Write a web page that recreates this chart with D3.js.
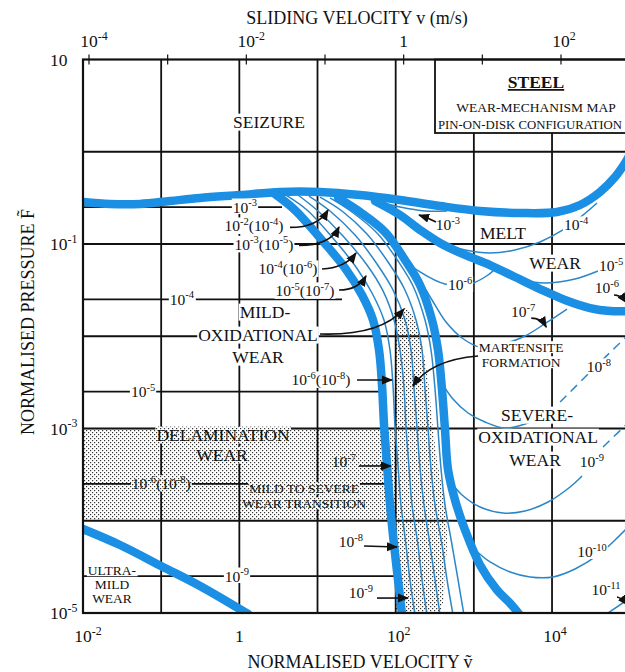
<!DOCTYPE html>
<html>
<head>
<meta charset="utf-8">
<script src="https://cdn.jsdelivr.net/npm/d3@7"></script>
<style>
  body { margin: 0; background: #fff; }
  text { font-family: "Liberation Serif", "Times New Roman", serif; fill: #111; }
</style>
</head>
<body>
<svg id="chart" width="625" height="672"></svg>
<script>
// All curve points are [log10 ṽ, log10 F̃] (normalised velocity, normalised pressure).

// Thick mechanism boundaries
const seizureBoundary = [[-2.0,-0.545],[-1.655,-0.566],[-1.27,-0.566],[-0.887,-0.534],[-0.503,-0.501],[0.008,-0.469],[0.52,-0.436],[1.032,-0.436],[1.543,-0.469],[2.055,-0.523],[2.567,-0.588],[3.079,-0.642],[3.59,-0.664],[4.064,-0.653],[4.358,-0.577],[4.614,-0.436],[4.806,-0.274],[4.934,-0.123],[5.03,0.02]];
const mildSevereBoundary = [[0.456,-0.458],[0.712,-0.632],[1.032,-0.935],[1.352,-1.26],[1.569,-1.553],[1.71,-1.824],[1.787,-2.149],[1.825,-2.528],[1.851,-2.962],[1.889,-3.396],[1.928,-3.829],[1.979,-4.263],[2.03,-4.642],[2.081,-5.022]];
const severeBoundary = [[1.263,-0.501],[1.543,-0.653],[1.863,-0.87],[2.119,-1.173],[2.311,-1.444],[2.465,-1.824],[2.541,-2.149],[2.593,-2.583],[2.631,-3.016],[2.67,-3.45],[2.759,-3.775],[2.887,-4.1],[3.079,-4.48],[3.296,-4.751],[3.462,-4.892],[3.59,-5.022]];
const meltBoundary = [[1.735,-0.534],[2.055,-0.686],[2.311,-0.848],[2.567,-0.989],[2.887,-1.119],[3.207,-1.228],[3.526,-1.358],[3.846,-1.488],[4.166,-1.607],[4.486,-1.694],[4.742,-1.726],[5.023,-1.726]];
const ultraMildBoundary = [[-2.0,-4.09],[-1.527,-4.263],[-0.977,-4.501],[-0.503,-4.707],[0.111,-5.011]];

// Thin wear-rate contours inside the transition band
const bandContour1 = [[0.597,-0.469],[0.866,-0.631],[1.185,-0.924],[1.492,-1.249],[1.697,-1.531],[1.85,-1.824],[1.927,-2.149],[1.966,-2.54],[1.991,-2.973],[2.03,-3.407],[2.068,-3.83],[2.132,-4.263],[2.183,-4.642],[2.247,-5.022]];
const bandContour2 = [[0.75,-0.469],[1.006,-0.642],[1.326,-0.913],[1.633,-1.228],[1.838,-1.509],[1.979,-1.824],[2.055,-2.149],[2.106,-2.55],[2.132,-2.984],[2.17,-3.417],[2.209,-3.829],[2.285,-4.263],[2.337,-4.642],[2.401,-5.022]];
const bandContour3 = [[0.891,-0.48],[1.16,-0.642],[1.48,-0.903],[1.761,-1.217],[1.966,-1.499],[2.119,-1.824],[2.196,-2.149],[2.234,-2.561],[2.273,-2.995],[2.311,-3.428],[2.362,-3.829],[2.439,-4.263],[2.503,-4.642],[2.567,-5.022]];
const bandContour4 = [[1.032,-0.491],[1.313,-0.642],[1.633,-0.892],[1.902,-1.195],[2.106,-1.477],[2.26,-1.824],[2.337,-2.149],[2.375,-2.572],[2.414,-3.005],[2.452,-3.439],[2.503,-3.829],[2.593,-4.263],[2.657,-4.642],[2.734,-5.022]];
const bandContour5 = [[1.16,-0.501],[1.441,-0.653],[1.761,-0.881],[2.03,-1.184],[2.222,-1.455],[2.375,-1.824],[2.452,-2.149],[2.503,-2.572],[2.541,-3.005],[2.58,-3.439],[2.631,-3.829],[2.721,-4.263],[2.798,-4.642],[2.874,-5.022]];

// Thin wear-rate contours in the melt and severe-oxidational fields
const meltContour3 = [[1.697,-0.523],[2.055,-0.599],[2.375,-0.642],[2.656,-0.642]];
const meltContour4 = [[2.631,-1.0],[2.887,-1.065],[3.207,-1.098],[3.526,-1.065],[3.846,-0.978],[4.14,-0.848],[4.383,-0.696],[4.575,-0.556]];
const meltContour5 = [[3.526,-1.379],[3.91,-1.423],[4.294,-1.379],[4.589,-1.293]];
const severeContour6 = [[2.081,-1.152],[2.311,-1.303],[2.631,-1.434],[2.951,-1.434],[3.181,-1.336],[3.296,-1.249]];
const severeContour7 = [[2.311,-1.39],[2.465,-1.607],[2.644,-1.846],[2.849,-2.019],[3.079,-2.117],[3.373,-2.084],[3.655,-1.997],[3.923,-1.856],[4.192,-1.705]];
const severeContour8 = [[2.567,-2.474],[2.721,-2.669],[2.926,-2.832],[3.143,-2.93],[3.399,-2.995],[3.655,-2.951],[3.949,-2.821]];
const severeContour8Dashed = [[4.103,-2.713],[4.487,-2.388],[4.998,-1.965]];
const severeContour9 = [[2.682,-3.559],[2.849,-3.721],[3.079,-3.851],[3.373,-3.916],[3.655,-3.894],[3.949,-3.797],[4.231,-3.634],[4.384,-3.515]];
const severeContour9Dashed = [[4.652,-3.2],[4.998,-2.919]];
const severeContour10 = [[2.99,-4.295],[3.207,-4.447],[3.463,-4.555],[3.719,-4.609],[4.013,-4.609],[4.294,-4.523],[4.589,-4.371],[4.806,-4.209],[4.998,-4.046]];
const severeContour11 = [[4.678,-5.022],[4.998,-4.838]];

// Horizontal wear-rate contours of the mild-oxidational field: [log10 F̃, log10 ṽ at end]
const mildContourLevels = [-0.6, -1.6, -2.6, -3.6, -4.6];
const mildContourEnds = [0.546, 1.313, 1.812, 1.902, 2.004];

// Stippled fields
const delaminationField = [[-2.0,-3.0],[2.0,-3.0],[2.0,-4.0],[-2.0,-4.0]];
const martensiteField = [[2.0,-1.8],[2.12,-1.694],[2.235,-1.803],[2.337,-2.095],[2.414,-2.474],[2.465,-2.908],[2.529,-3.341],[2.619,-3.775],[2.657,-4.209],[2.631,-4.534],[2.542,-5.0],[2.0,-5.0]];

// Axes
const gridX = [-1, 0, 1, 2, 3, 4];
const gridY = [0, -1, -2, -3, -4];
const bottomTicks = [-2, 0, 2, 4];
const bottomTickLabels = ["10^{-2}", "1", "10^{2}", "10^{4}"];
const leftTicks = [1, -1, -3, -5];
const leftTickLabels = ["10", "10^{-1}", "10^{-3}", "10^{-5}"];
const topTicks = [-4, -3, -2, -1, 0, 1, 2];
const topLabelTicks = [-4, -2, 0, 2];
const topTickLabels = ["10^{-4}", "10^{-2}", "1", "10^{2}"];

// Field names: [text, log10 ṽ, log10 F̃, size class, background]
const fieldLabels = [
  ["SEIZURE", 0.379, 0.322, "L", "w"],
  ["MILD-", 0.328, -1.737, "L", "w"],
  ["OXIDATIONAL", 0.239, -1.986, "L", "w"],
  ["WEAR", 0.239, -2.225, "L", "w"],
  ["DELAMINATION", -0.209, -3.07, "L", "d"],
  ["WEAR", -0.222, -3.287, "L", "d"],
  ["MILD TO SEVERE", 0.828, -3.645, "S", "d"],
  ["WEAR TRANSITION", 0.828, -3.808, "S", "d"],
  ["ULTRA-", -1.629, -4.534, "S", "w"],
  ["MILD", -1.629, -4.686, "S", "w"],
  ["WEAR", -1.629, -4.838, "S", "w"],
  ["MELT", 3.373, -0.881, "L", "w"],
  ["WEAR", 4.039, -1.206, "L", "w"],
  ["MARTENSITE", 3.604, -2.116, "S", "w"],
  ["FORMATION", 3.604, -2.279, "S", "w"],
  ["SEVERE-", 3.809, -2.854, "L", "w"],
  ["OXIDATIONAL", 3.822, -3.092, "L", "w"],
  ["WEAR", 3.783, -3.341, "L", "w"]
];

// Wear-rate values W̃: [text, log10 ṽ, log10 F̃, background]
const rateLabels = [
  ["10^{-3}", 0.072, -0.6, "w"],
  ["10^{-2}(10^{-4})", 0.187, -0.805, "w"],
  ["10^{-3}(10^{-5})", 0.315, -1.005, "w"],
  ["10^{-4}(10^{-6})", 0.622, -1.271, "w"],
  ["10^{-5}(10^{-7})", 0.84, -1.509, "w"],
  ["10^{-4}", -0.734, -1.6, "w"],
  ["10^{-5}", -1.232, -2.6, "w"],
  ["10^{-6}(10^{-8})", -0.998, -3.6, "d"],
  ["10^{-9}", -0.03, -4.6, "w"],
  ["10^{-6}(10^{-8})", 1.045, -2.474, "w"],
  ["10^{-7}", 1.338, -3.363, "d"],
  ["10^{-8}", 1.427, -4.231, "w"],
  ["10^{-9}", 1.555, -4.784, "w"],
  ["10^{-3}", 2.669, -0.794, "w"],
  ["10^{-4}", 4.307, -0.794, "w"],
  ["10^{-5}", 4.755, -1.238, "w"],
  ["10^{-6}", 2.823, -1.445, "w"],
  ["10^{-6}", 4.703, -1.477, "w"],
  ["10^{-7}", 3.629, -1.737, "w"],
  ["10^{-8}", 4.601, -2.333, "w"],
  ["10^{-9}", 4.511, -3.363, "w"],
  ["10^{-10}", 4.511, -4.339, "w"],
  ["10^{-11}", 4.69, -4.751, "w"]
];

// Leader arrows: start, control, end
const leaders = [
  [[0.648,-0.82],[1.006,-0.82],[1.134,-0.632]],
  [[0.763,-1.015],[1.16,-1.015],[1.275,-0.816]],
  [[1.058,-1.271],[1.352,-1.26],[1.492,-1.098]],
  [[1.275,-1.499],[1.518,-1.499],[1.62,-1.347]],
  [[1.505,-2.474],[1.735,-2.474],[1.953,-2.474]],
  [[1.531,-3.406],[1.735,-3.406],[1.94,-3.406]],
  [[1.595,-4.274],[1.8,-4.28],[2.017,-4.285]],
  [[1.761,-4.838],[1.953,-4.838],[2.158,-4.838]],
  [[1.032,-1.976],[1.8,-1.997],[2.106,-1.705]],
  [[3.054,-2.214],[2.439,-2.257],[2.222,-2.539]],
  [[2.516,-0.762],[2.414,-0.718],[2.299,-0.686]],
  [[3.734,-1.803],[3.862,-1.803],[3.926,-1.9]],
  [[4.793,-1.553],[4.883,-1.553],[4.959,-1.64]],
  [[4.831,-4.827],[4.895,-4.838],[4.972,-4.914]]
];

const svg = d3.select("#chart");
const x = d3.scaleLog().domain([1e-2, 1e5]).range([83, 630.2]);
const y = d3.scaleLog().domain([1e-5, 10]).range([613, 59.5]);
const xTop = d3.scaleLog().domain([1e-4, 1e2]).range([89, 561]);
const px = e => x(Math.pow(10, e[0]));
const py = e => y(Math.pow(10, e[1]));

const THICK = "#1a8fe3", THIN = "#2a86c8", INK = "#111";
const SIZE = { L: 17.5, S: 13.5 };
const RATE_SIZE = 15.5, TICK_SIZE = 17.5;

const defs = svg.append("defs");
const pat = defs.append("pattern").attr("id", "dots").attr("width", 4).attr("height", 4)
  .attr("patternUnits", "userSpaceOnUse");
pat.append("rect").attr("width", 4).attr("height", 4).attr("fill", "#fff");
pat.append("rect").attr("x", 0).attr("y", 0).attr("width", 1.2).attr("height", 1.2).attr("fill", "#333");
pat.append("rect").attr("x", 2).attr("y", 2).attr("width", 1.2).attr("height", 1.2).attr("fill", "#333");
defs.append("clipPath").attr("id", "plot").append("rect")
  .attr("x", x(1e-2)).attr("y", y(10)).attr("width", x(1e5) - x(1e-2)).attr("height", y(1e-5) - y(10));
defs.append("marker").attr("id", "head").attr("viewBox", "0 0 10 10").attr("refX", 9).attr("refY", 5)
  .attr("markerWidth", 7).attr("markerHeight", 7).attr("orient", "auto-start-reverse")
  .append("path").attr("d", "M0,1 L10,5 L0,9 Z").attr("fill", INK);

// Text with superscripts written as 10^{-3}
function richText(parent, str, cx, cy, size, anchor) {
  const t = parent.append("text").attr("x", cx).attr("y", cy + size * 0.35)
    .attr("text-anchor", anchor).attr("font-size", size);
  const parts = str.split(/\^\{([^}]*)\}/);
  const shift = size * 0.42;
  let raised = false;
  parts.forEach((p, i) => {
    if (!p) return;
    const ts = t.append("tspan").text(p);
    if (i % 2 === 1) {
      ts.attr("font-size", size * 0.68);
      if (!raised) { ts.attr("dy", -shift); raised = true; }
    } else if (raised) {
      ts.attr("dy", shift); raised = false;
    }
  });
  return t;
}
function backing(parent, t, kind) {
  const b = t.node().getBBox();
  parent.insert("rect", () => t.node())
    .attr("x", b.x - 1).attr("y", b.y + 1.5).attr("width", b.width + 2).attr("height", b.height - 3)
    .attr("fill", kind === "d" ? "url(#dots)" : "#fff");
}

const plot = svg.append("g").attr("clip-path", "url(#plot)");
const area = d3.line().x(px).y(py);
const curve = d3.line().x(px).y(py).curve(d3.curveCatmullRom.alpha(0.5));

// Stippled fields
plot.append("path").attr("d", area(delaminationField) + "Z").attr("fill", "url(#dots)");
plot.append("path").attr("d", curve(martensiteField) + "Z").attr("fill", "url(#dots)");

// Grid
plot.selectAll(".gx").data(gridX).join("line")
  .attr("x1", d => x(Math.pow(10, d))).attr("x2", d => x(Math.pow(10, d)))
  .attr("y1", y(10)).attr("y2", y(1e-5)).attr("stroke", INK).attr("stroke-width", 1.8);
plot.selectAll(".gy").data(gridY).join("line")
  .attr("y1", d => y(Math.pow(10, d))).attr("y2", d => y(Math.pow(10, d)))
  .attr("x1", x(1e-2)).attr("x2", x(1e5)).attr("stroke", INK).attr("stroke-width", 1.8);

// Mild-oxidational wear-rate contours
plot.selectAll(".mc").data(mildContourLevels).join("line")
  .attr("x1", x(1e-2)).attr("x2", (d, i) => x(Math.pow(10, mildContourEnds[i])))
  .attr("y1", d => y(Math.pow(10, d))).attr("y2", d => y(Math.pow(10, d)))
  .attr("stroke", INK).attr("stroke-width", 1.8);

// Thin contours
const thinSolid = [bandContour1, bandContour2, bandContour3, bandContour4, bandContour5,
  meltContour3, meltContour4, meltContour5, severeContour6, severeContour7, severeContour8,
  severeContour9, severeContour10, severeContour11];
plot.selectAll(".thin").data(thinSolid).join("path").attr("d", curve)
  .attr("fill", "none").attr("stroke", THIN).attr("stroke-width", 1.5);
plot.selectAll(".dash").data([severeContour8Dashed, severeContour9Dashed]).join("path").attr("d", curve)
  .attr("fill", "none").attr("stroke", THIN).attr("stroke-width", 1.5).attr("stroke-dasharray", "9,6");

// Title box
const box = svg.append("g");
box.append("rect").attr("x", 435).attr("y", y(10)).attr("width", 200).attr("height", 73.5)
  .attr("fill", "#fff").attr("stroke", INK).attr("stroke-width", 1.8);
box.append("text").attr("x", 536).attr("y", 88).attr("text-anchor", "middle")
  .attr("font-size", 17.5).attr("font-weight", "bold").attr("text-decoration", "underline").text("STEEL");
box.append("text").attr("x", 536).attr("y", 112).attr("text-anchor", "middle")
  .attr("font-size", 13.5).text("WEAR-MECHANISM MAP");
box.append("text").attr("x", 438).attr("y", 129).attr("text-anchor", "start")
  .attr("font-size", 13).attr("textLength", 184).attr("lengthAdjust", "spacingAndGlyphs")
  .text("PIN-ON-DISK CONFIGURATION");

// Labels
const labels = svg.append("g").attr("clip-path", "url(#plot)");
fieldLabels.forEach(([t, lx, ly, s, bg]) => {
  const el = richText(labels, t, px([lx, ly]), py([lx, ly]), SIZE[s], "middle");
  backing(labels, el, bg);
});
rateLabels.forEach(([t, lx, ly, bg]) => {
  const el = richText(labels, t, px([lx, ly]), py([lx, ly]), RATE_SIZE, "middle");
  backing(labels, el, bg);
});

// Thick boundaries
plot.append("g").selectAll("path")
  .data([seizureBoundary, mildSevereBoundary, severeBoundary, meltBoundary, ultraMildBoundary])
  .join("path").attr("d", curve).attr("fill", "none").attr("stroke", THICK)
  .attr("stroke-width", 8.5).attr("stroke-linecap", "round");

// Leader arrows
svg.append("g").attr("clip-path", "url(#plot)").selectAll("path").data(leaders).join("path")
  .attr("d", d => `M${px(d[0])},${py(d[0])} Q${px(d[1])},${py(d[1])} ${px(d[2])},${py(d[2])}`)
  .attr("fill", "none").attr("stroke", INK).attr("stroke-width", 1.6).attr("marker-end", "url(#head)");

// Frame
svg.append("rect").attr("x", x(1e-2)).attr("y", y(10)).attr("width", x(1e5) - x(1e-2))
  .attr("height", y(1e-5) - y(10)).attr("fill", "none").attr("stroke", INK).attr("stroke-width", 2.2);

// Top axis (sliding velocity)
svg.selectAll(".tt").data(topTicks).join("line")
  .attr("x1", d => xTop(Math.pow(10, d))).attr("x2", d => xTop(Math.pow(10, d)))
  .attr("y1", y(10) - 5).attr("y2", y(10) + 5).attr("stroke", INK).attr("stroke-width", 1.2);

function tickLabel(str, cx, cy) {
  const t = richText(svg, str, cx, cy, TICK_SIZE, "start");
  const w = t.select("tspan").node().getComputedTextLength();
  t.attr("x", cx - w / 2);
}
topLabelTicks.forEach((d, i) => tickLabel(topTickLabels[i], xTop(Math.pow(10, d)), 41));
bottomTicks.forEach((d, i) => tickLabel(bottomTickLabels[i], x(Math.pow(10, d)), 636));
leftTicks.forEach((d, i) => richText(svg, leftTickLabels[i], 50, y(Math.pow(10, d)), TICK_SIZE, "start"));

// Axis titles
svg.append("text").attr("x", 357).attr("y", 24).attr("text-anchor", "middle")
  .attr("font-size", 18).text("SLIDING VELOCITY v (m/s)");
svg.append("text").attr("x", 360).attr("y", 668).attr("text-anchor", "middle")
  .attr("font-size", 18).text("NORMALISED VELOCITY \u1E7D");
svg.append("text").attr("transform", "translate(34,322) rotate(-90)").attr("text-anchor", "middle")
  .attr("font-size", 18).text("NORMALISED PRESSURE F\u0303");
</script>
</body>
</html>
